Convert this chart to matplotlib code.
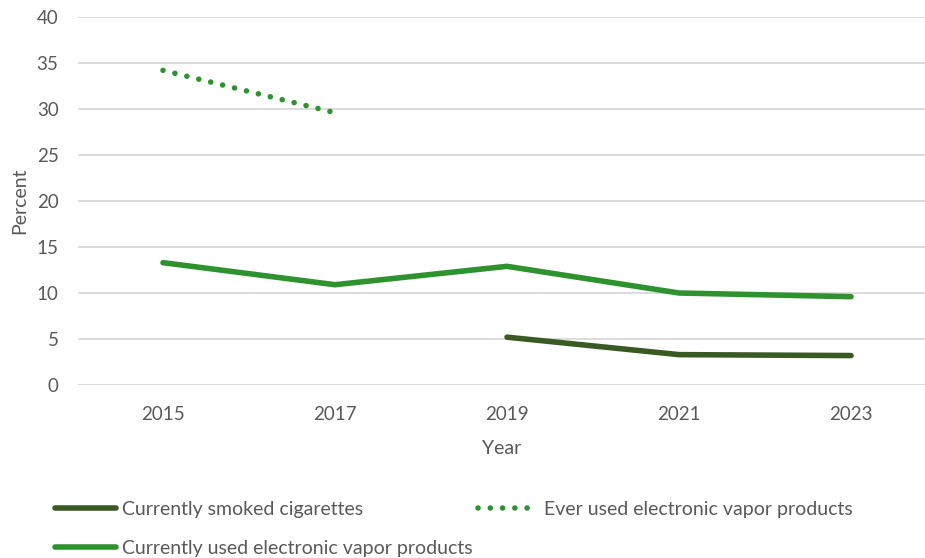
import matplotlib.pyplot as plt
import numpy as np

years = ["2015", "2017", "2019", "2021", "2023"]
smoked = [np.nan, np.nan, 5.2, 3.3, 3.2]
ever_vape = [34.2, 29.6, np.nan, np.nan, np.nan]
current_vape = [13.3, 10.9, 12.9, 10.0, 9.6]

dark_green = "#3b5a23"
green = "#2e922e"
text_gray = "#595959"

plt.rcParams["font.family"] = ["Lato", "DejaVu Sans"]

fig = plt.figure(figsize=(9.25, 5.58), dpi=100)
ax = fig.add_axes([78 / 925, 1 - 385 / 558, 1 - 78 / 925, (385 - 17) / 558])

x = np.arange(len(years))
l1, = ax.plot(x, smoked, color=dark_green, lw=4, solid_capstyle="round",
              label="Currently smoked cigarettes")
l2, = ax.plot(x, current_vape, color=green, lw=4, solid_capstyle="round",
              label="Currently used electronic vapor products")
l3, = ax.plot(x, ever_vape, color=green, lw=4, linestyle=(0, (0.01, 2.2)),
              dash_capstyle="round", label="Ever used electronic vapor products")

ax.set_xlim(-0.494, 4.43)
ax.set_ylim(0, 40)
ax.set_yticks(range(0, 41, 5))
ax.set_xticks(x)
ax.set_xticklabels(years)
ax.grid(axis="y", color="#d9d9d9", lw=1.3)
ax.set_axisbelow(True)
for s in ax.spines.values():
    s.set_visible(False)
ax.tick_params(length=0, labelsize=13.5, colors=text_gray, pad=14)
ax.tick_params(axis="x", pad=15)
ax.set_xlabel("Year", fontsize=14, color=text_gray, labelpad=12)
ax.set_ylabel("Percent", fontsize=14, color=text_gray, labelpad=6)

fig.legend(handles=[l1, l2, l3], loc="lower left", bbox_to_anchor=(0.041, -0.03),
           ncol=2, frameon=False, fontsize=14, labelcolor=text_gray,
           handlelength=3.1, handletextpad=0.3, columnspacing=0.3,
           labelspacing=1.15)

fig.savefig("out.png", dpi=100)
